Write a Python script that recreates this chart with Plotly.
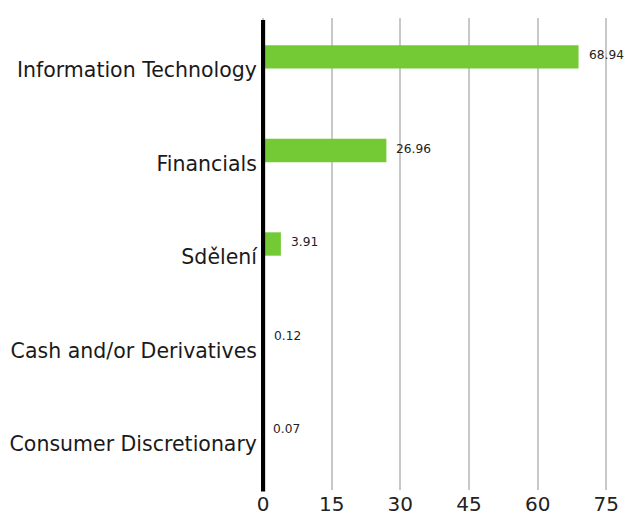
import plotly.graph_objects as go

categories = ["Information Technology", "Financials", "Sdělení", "Cash and/or Derivatives", "Consumer Discretionary"]
values = [68.94, 26.96, 3.91, 0.12, 0.07]
value_labels = ["68.94", "26.96", "3.91", "0.12", "0.07"]
x_ticks = [0, 15, 30, 45, 60, 75]

pos = list(range(len(categories)))
bar_offset = -0.14
bar_pos = [p + bar_offset for p in pos]

FONT = "DejaVu Sans"

fig = go.Figure()
fig.add_trace(go.Bar(
    x=values, y=bar_pos, orientation="h",
    width=0.25, marker=dict(color="#74CA35", line=dict(width=0)),
    hoverinfo="skip",
))

for v, lbl, y in zip(values, value_labels, bar_pos):
    fig.add_annotation(x=v, y=y - 0.02, text=lbl, showarrow=False,
                       xanchor="left", yanchor="middle", xshift=8,
                       font=dict(family=FONT, size=12.2, color="#222222"))

# thick black baseline at x = 0, drawn above the bars
fig.add_shape(type="line", xref="x", yref="paper", x0=0, x1=0, y0=-0.003, y1=0.996,
              line=dict(color="black", width=4.3), layer="above")

fig.update_layout(
    width=626, height=518,
    margin=dict(l=261, r=13, t=18, b=28, autoexpand=False),
    paper_bgcolor="white", plot_bgcolor="white",
    showlegend=False,
    font=dict(family=FONT, color="#1a1a1a"),
    xaxis=dict(range=[-0.437, 76.47], tickvals=x_ticks, ticktext=[str(t) for t in x_ticks],
               showgrid=True, gridcolor="#c8c8c8", gridwidth=2,
               zeroline=False, showline=False, ticks="", automargin=False,
               tickfont=dict(family=FONT, size=20, color="#222222"), fixedrange=True),
    yaxis=dict(range=[4.49, -0.556], tickvals=pos, ticktext=categories,
               showgrid=False, zeroline=False, showline=False, automargin=False,
               ticks="", ticklabelstandoff=3,
               tickfont=dict(family=FONT, size=20.5, color="#1a1a1a")),
)

fig.write_html(
    "out.html",
    config={"displayModeBar": False},
    post_script="document.body.style.margin='0';document.documentElement.style.overflow='hidden';",
)
